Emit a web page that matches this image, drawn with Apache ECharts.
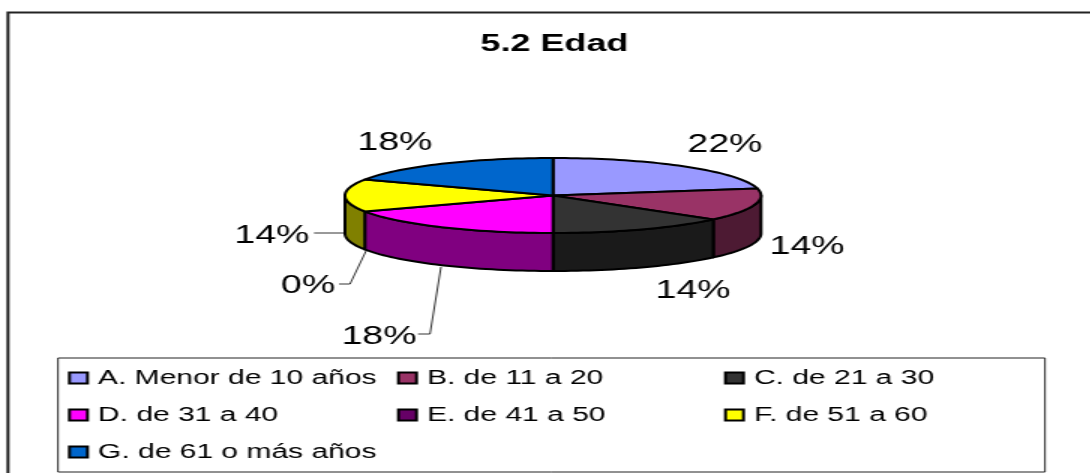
<!DOCTYPE html>
<html>
<head>
<meta charset="utf-8">
<style>
html,body{margin:0;padding:0;background:#fff;overflow:hidden;width:1090px;height:473px}
#c{width:727px;height:473px;transform:scaleX(1.5);transform-origin:0 0}
</style>
<script src="https://cdn.jsdelivr.net/npm/echarts@6/dist/echarts.min.js"></script>
</head>
<body>
<div id="c"></div>
<script>
var titleText = '5.2 Edad';
var categories = ['A. Menor de 10 años','B. de 11 a 20','C. de 21 a 30','D. de 31 a 40','E. de 41 a 50','F. de 51 a 60','G. de 61 o más años'];
var values = [22,14,14,18,0,14,18];
var topColors = ['#9999FF','#993366','#333333','#FF00FF','#660066','#FFFF00','#0066CC'];
var wallColors = ['#4D4D80','#4D1A33','#1A1A1A','#800080','#330033','#808000','#003366'];
var legendColumns = [[0,3,6],[1,4],[2,5]];

// layout, in screen pixels
var SX = 1.5;
var CX = 553, CY = 195.5, RX = 208, RY = 37.5, DEPTH = 38;
var labelPos = [[725,145],[807,247],[693,291],[379,337],[308,286],[272,236],[395,143]];
var leaders = [null,null,null,
  [[418,334],[430,334],[441,267]],
  [[339,284],[350,284],[366,251]],
  [[314,233],[345,233]],
  null];

var total = values.reduce(function(a,b){return a+b;},0);
var starts = []; values.reduce(function(acc,v,i){starts[i]=acc;return acc+v;},0);
function px(p){return [p[0]/SX,p[1]];}
function pt(a,dy){return px([CX+RX*Math.sin(a),CY-RY*Math.cos(a)+(dy||0)]);}
function arc(a0,a1,dy){
  var n=Math.max(2,Math.ceil(Math.abs(a1-a0)/0.03)),out=[];
  for(var i=0;i<=n;i++){out.push(pt(a0+(a1-a0)*i/n,dy));}
  return out;
}
function render(idx){
  return function(params,api){
    var v=api.value(0);
    var a0=starts[idx]/total*2*Math.PI, a1=a0+v/total*2*Math.PI;
    var kids=[];
    var stroke={stroke:'#000',lineWidth:2,lineJoin:'round'};
    var w0=Math.max(a0,Math.PI/2), w1=Math.min(a1,Math.PI*1.5);
    if(v>0 && w1>w0){
      var top=arc(w0,w1,0), bot=arc(w0,w1,DEPTH).reverse();
      kids.push({type:'polygon',shape:{points:top.concat(bot)},
        style:Object.assign({fill:wallColors[idx]},stroke)});
    }
    if(v>0){
      kids.push({type:'polygon',z2:5,shape:{points:[px([CX,CY])].concat(arc(a0,a1,0))},
        style:Object.assign({fill:topColors[idx]},stroke)});
    }
    if(leaders[idx]){
      kids.push({type:'polyline',shape:{points:leaders[idx].map(px)},
        style:{stroke:'#000',lineWidth:0.8,fill:'none'}});
    }
    var lp=px(labelPos[idx]);
    kids.push({type:'text',x:lp[0],y:lp[1],style:{text:Math.round(v/total*100)+'%',
      font:'25px "Liberation Sans", Arial, sans-serif',fill:'#000',align:'center',verticalAlign:'middle'}});
    return {type:'group',children:kids};
  };
}
var series=categories.map(function(name,i){
  return {type:'custom',name:name,coordinateSystem:'none',silent:true,z:2,
    data:[[values[i]]],renderItem:render(i),animation:false,
    itemStyle:{color:topColors[i],borderColor:'#000',borderWidth:1.6}};
});
var legendX=[68,397,724];
var legends=legendColumns.map(function(col,c){
  return {show:true,orient:'vertical',left:legendX[c]/SX,top:366.5,padding:0,
    data:col.map(function(i){return {name:categories[i],icon:'rect'};}),
    itemWidth:12,itemHeight:11,itemGap:14,selectedMode:false,
    textStyle:{fontFamily:'"Liberation Sans", Arial, sans-serif',fontSize:20,color:'#000',lineHeight:23,padding:[0,0,0,2]}};
});
var chart=echarts.init(document.getElementById('c'),null,{renderer:'canvas'});
chart.setOption({
  animation:false,
  backgroundColor:'#fff',
  title:{text:titleText,left:(CX+1.5)/SX,top:44,textAlign:'center',textVerticalAlign:'middle',padding:0,
    textStyle:{fontFamily:'"Liberation Sans", Arial, sans-serif',fontSize:24,fontWeight:'bold',color:'#000'}},
  legend:legends,
  graphic:[
    {type:'polyline',silent:true,shape:{points:[[8/SX,480],[8/SX,12.5],[1100/SX,12.5]]},style:{stroke:'#222',lineWidth:2,fill:'none'}},
    {type:'rect',silent:true,shape:{x:58/SX,y:358,width:987/SX,height:114},style:{fill:'none',stroke:'#222',lineWidth:1}}
  ],
  series:series
});
</script>
</body>
</html>
